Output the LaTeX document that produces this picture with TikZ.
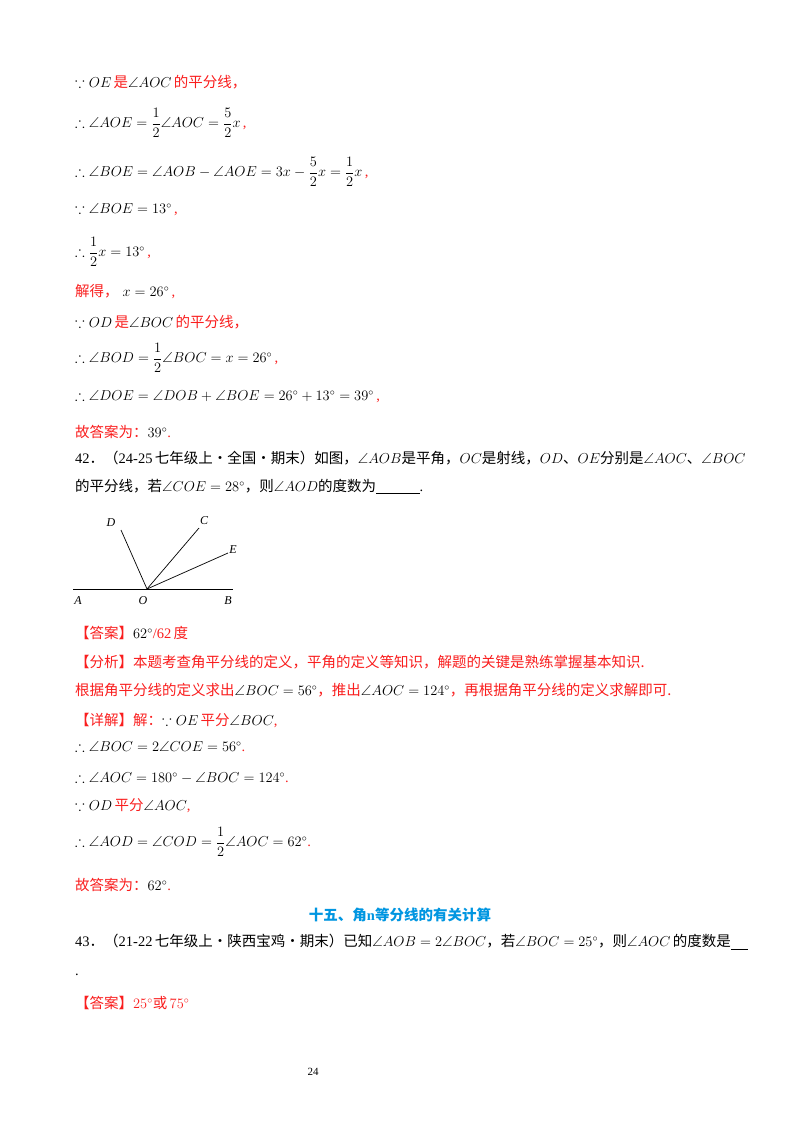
\documentclass[tikz,border=0pt]{standalone}
\usepackage{amsmath,amssymb}
\usepackage{fontspec}
\setmainfont{Liberation Serif}
\newfontfamily\cjk{Noto Sans CJK SC}
\definecolor{rd}{RGB}{250,30,30}
\definecolor{bl}{RGB}{0,150,225}
\newcommand{\R}[1]{\textcolor{rd}{\cjk #1}}
\newcommand{\K}[1]{{\cjk #1}}
\begin{document}
\begin{tikzpicture}[x=1pt,y=-1pt,
  ln/.style={anchor=west,inner sep=0pt,font=\fontsize{14.5}{16}\selectfont},
  lbl/.style={inner sep=0pt,font=\fontsize{12}{14}\selectfont\itshape}]
\useasboundingbox[fill=white] (0,0) rectangle (800,1132);
\node[ln] (l1) at (75,82) {$\because OE$\,\R{是}$\angle AOC$\,\R{的平分线，}};
\node[ln] (l2) at (75,123) {$\therefore\angle AOE=\dfrac12\angle AOC=\dfrac52x$\,\textcolor{rd}{,}};
\node[ln] (l3) at (75,172) {$\therefore\angle BOE=\angle AOB-\angle AOE=3x-\dfrac52x=\dfrac12x$\,\textcolor{rd}{,}};
\node[ln] (l4) at (75,210) {$\because\angle BOE=13^\circ$\,\textcolor{rd}{,}};
\node[ln] (l5) at (75,252) {$\therefore\dfrac12x=13^\circ$\,\textcolor{rd}{,}};
\node[ln] (l6) at (75,292) {\R{解得，}\;$x=26^\circ$\,\textcolor{rd}{,}};
\node[ln] (l7) at (75,322) {$\because OD$\,\R{是}$\angle BOC$\,\R{的平分线，}};
\node[ln] (l8) at (75,358) {$\therefore\angle BOD=\dfrac12\angle BOC=x=26^\circ$\,\textcolor{rd}{,}};
\node[ln] (l9) at (75,397) {$\therefore\angle DOE=\angle DOB+\angle BOE=26^\circ+13^\circ=39^\circ$\,\textcolor{rd}{,}};
\node[ln] (l10) at (75,432) {\R{故答案为：}$39^\circ$\textcolor{rd}{.}};
\node[ln] (l11) at (75,458) {42\K{．（}24-25\,\K{七年级上·全国·期末）如图，}$\angle AOB$\K{是平角，}$OC$\K{是射线，}$OD$\K{、}$OE$\K{分别是}$\angle AOC$\K{、}$\angle BOC$};
\node[ln] (l12) at (75,487) {\K{的平分线，若}$\angle COE=28^\circ$\K{，则}$\angle AOD$\K{的度数为}\underline{\hspace{3em}}.};
% figure
\coordinate (A) at (73,589); \coordinate (B) at (233,589); \coordinate (O) at (147,589);
\coordinate (D) at (121,530); \coordinate (C) at (199,528); \coordinate (E) at (228,553);
\draw[line width=0.8pt] (A) -- (B);
\draw[line width=0.7pt] (O) -- (D); \draw[line width=0.7pt] (O) -- (C); \draw[line width=0.7pt] (O) -- (E);
\node[lbl] (lA) at (78,601) {A}; \node[lbl] (lO) at (143,601) {O}; \node[lbl] (lB) at (228,601) {B};
\node[lbl] (lD) at (111,523) {D}; \node[lbl] (lC) at (204,521) {C}; \node[lbl] (lE) at (233,550) {E};
\node[ln] (l13) at (75,633) {\R{【答案】}$62^\circ$\textcolor{rd}{/62\,\K{度}}};
\node[ln] (l14) at (75,662) {\R{【分析】本题考查角平分线的定义，平角的定义等知识，解题的关键是熟练掌握基本知识.}};
\node[ln] (l15) at (75,690) {\R{根据角平分线的定义求出}$\angle BOC=56^\circ$\R{，推出}$\angle AOC=124^\circ$\R{，再根据角平分线的定义求解即可.}};
\node[ln] (l16) at (75,720) {\R{【详解】解：}$\because OE$\,\R{平分}$\angle BOC$\textcolor{rd}{,}};
\node[ln] (l17) at (75,747) {$\therefore\angle BOC=2\angle COE=56^\circ$\textcolor{rd}{.}};
\node[ln] (l18) at (75,778) {$\therefore\angle AOC=180^\circ-\angle BOC=124^\circ$\textcolor{rd}{.}};
\node[ln] (l19) at (75,806) {$\because OD$\,\R{平分}$\angle AOC$\textcolor{rd}{,}};
\node[ln] (l20) at (75,842) {$\therefore\angle AOD=\angle COD=\dfrac12\angle AOC=62^\circ$\textcolor{rd}{.}};
\node[ln] (l21) at (75,885) {\R{故答案为：}$62^\circ$\textcolor{rd}{.}};
\node[inner sep=0pt,font=\fontsize{14.5}{16}\selectfont\bfseries,text=bl] (h) at (400,915) {\K{十五、角}n\K{等分线的有关计算}};
\node[ln] (l23) at (75,942) {43\K{．（}21-22\,\K{七年级上·陕西宝鸡·期末）已知}$\angle AOB=2\angle BOC$\K{，若}$\angle BOC=25^\circ$\K{，则}$\angle AOC$\,\K{的度数是}\underline{\hspace{1.2em}}};
\node[ln] (l24) at (75,975) {.};
\node[ln] (l25) at (75,1003) {\R{【答案】}\textcolor{rd}{$25^\circ$\K{或}\,$75^\circ$}};
\node[inner sep=0pt,font=\fontsize{11}{13}\selectfont] (pg) at (313,1072) {24};
\end{tikzpicture}
\end{document}
